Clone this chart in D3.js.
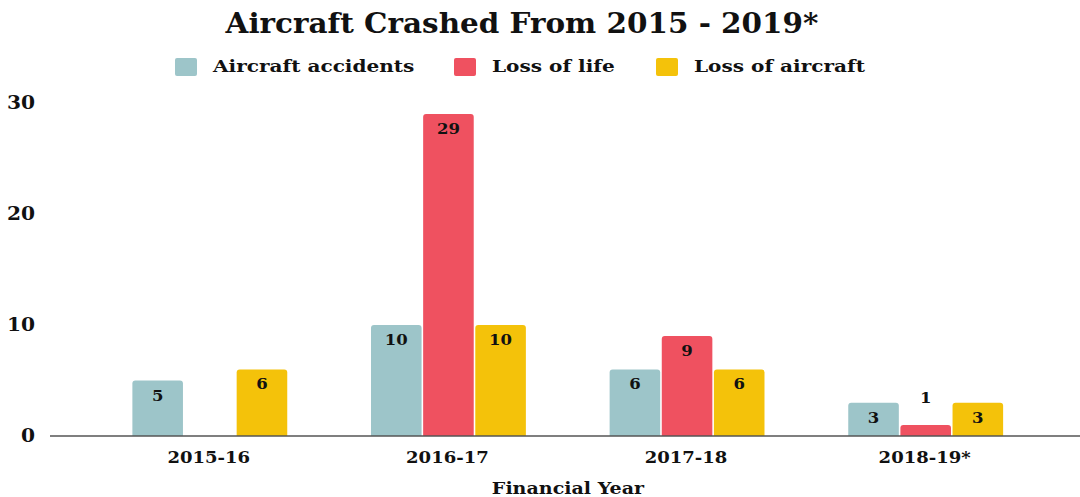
<!DOCTYPE html>
<html><head><meta charset="utf-8">
<script src="https://cdn.jsdelivr.net/npm/d3@7"></script>
<style>body{margin:0;background:#fff}svg{display:block}</style>
</head><body>
<svg id="c" width="1080" height="497"></svg>
<script>
const categories = ["2015-16","2016-17","2017-18","2018-19*"];
const seriesNames = ["Aircraft accidents","Loss of life","Loss of aircraft"];
const aircraftAccidents = [5,10,6,3];
const lossOfLife = [0,29,9,1];
const lossOfAircraft = [6,10,6,3];
const yTicks = [0,10,20,30];
const colors = ["#9dc5c9","#ef5160","#f4c20a"];
const series = [aircraftAccidents, lossOfLife, lossOfAircraft];

const font = "'DejaVu Serif', serif";
const svg = d3.select("#c");
const x = d3.scaleBand().domain(categories).range([89.5,1044]).paddingInner(0).paddingOuter(0);
const y = d3.scaleLinear().domain([0,30]).range([436,103]);
const xs = d3.scaleBand().domain(d3.range(3)).range([-78,80]).padding(0.03);

function stretch(sel, f){
  sel.each(function(){
    const w = this.getComputedTextLength();
    d3.select(this).attr("textLength", w*f).attr("lengthAdjust","spacingAndGlyphs");
  });
  return sel;
}
function txt(xp,yp,s,size,anchor){
  return svg.append("text").attr("x",xp).attr("y",yp).attr("text-anchor",anchor||"middle")
   .attr("font-family",font).attr("font-weight","bold").attr("font-size",size).attr("fill","#111").text(s);
}

stretch(txt(522,33,"Aircraft Crashed From 2015 - 2019*",27), 1.09);

// legend
const legX = [175,454,656];
seriesNames.forEach((n,i)=>{
  svg.append("rect").attr("x",legX[i]).attr("y",58).attr("width",22).attr("height",18).attr("rx",2).attr("fill",colors[i]);
  stretch(txt(legX[i]+38,72,n,17,"start"), 1.18);
});

// y axis labels
yTicks.forEach(t=>{
  stretch(txt(35,y(t)+6,t,18,"end"), 1.12);
});

function topRounded(x0,y0,w,h,r){
  r=Math.min(r,h);
  return `M${x0},${y0+h}V${y0+r}Q${x0},${y0} ${x0+r},${y0}H${x0+w-r}Q${x0+w},${y0} ${x0+w},${y0+r}V${y0+h}Z`;
}

categories.forEach((c,ci)=>{
  const cx = x(c)+x.bandwidth()/2;
  series.forEach((s,si)=>{
    const v = s[ci];
    if(!v) return;
    const bx = cx + xs(si), bw = xs.bandwidth();
    const top = y(v), h = y(0)-y(v);
    svg.append("path").attr("d",topRounded(bx,top,bw,h,3)).attr("fill",colors[si]);
    const ly = h>25 ? top+20 : top-22;
    stretch(txt(bx+bw/2,ly,v,15), 1.1);
  });
  stretch(txt(cx,463,c,17), 1.06);
});

svg.append("line").attr("x1",50).attr("x2",1080).attr("y1",y(0)).attr("y2",y(0))
  .attr("stroke","#555").attr("stroke-width",1.5);

stretch(txt(568,494,"Financial Year",17), 1.12);
</script>
</body></html>
